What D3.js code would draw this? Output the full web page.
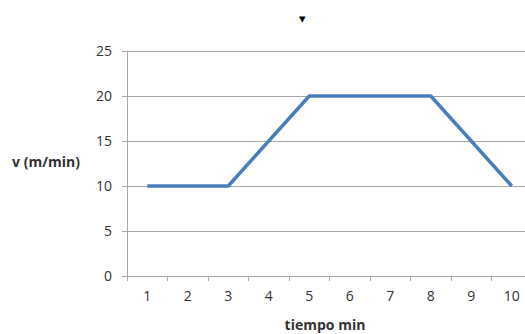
<!DOCTYPE html>
<html><head><meta charset="utf-8">
<script src="https://cdn.jsdelivr.net/npm/d3@7"></script>
<style>
body{margin:0;background:#fff;}
text{font-family:"Open Sans","Noto Sans",sans-serif;}
</style></head>
<body><svg id="c" width="525" height="334"></svg>
<script>
const categories = ["1","2","3","4","5","6","7","8","9","10"];
const velocity = [10,10,10,15,20,20,20,20,15,10];
const yTicks = [0,5,10,15,20,25];
const chartTitle = "▾";
const xTitle = "tiempo min";
const yTitle = "v (m/min)";

const svg = d3.select("#c");
const x = d3.scaleBand().domain(categories).range([127, 532]);
const y = d3.scaleLinear().domain([0,25]).range([276, 51]);

// gridlines
svg.append("g").selectAll("line").data(yTicks.filter(d=>d>0)).join("line")
  .attr("x1",127).attr("x2",525).attr("y1",d=>y(d)).attr("y2",d=>y(d))
  .attr("stroke","#a6a6a6").attr("stroke-width",1).attr("shape-rendering","crispEdges");

// y axis
const ya = svg.append("g").attr("transform","translate(127,0)")
  .call(d3.axisLeft(y).tickValues(yTicks).tickSize(5).tickPadding(10));
ya.select(".domain").attr("stroke","#a6a6a6").attr("shape-rendering","crispEdges");
ya.selectAll(".tick line").attr("stroke","#a6a6a6").attr("shape-rendering","crispEdges");
ya.selectAll(".tick text").attr("font-size",14).attr("fill","#333")
  .attr("font-family","'Open Sans','Noto Sans',sans-serif");

// x axis
const xa = svg.append("g").attr("transform","translate(0,276)")
  .call(d3.axisBottom(x).tickSize(0).tickPadding(15));
xa.select(".domain").remove();
xa.selectAll(".tick text").attr("font-size",14).attr("fill","#333")
  .attr("font-family","'Open Sans','Noto Sans',sans-serif");
// boundary ticks
svg.append("line").attr("x1",127).attr("x2",525).attr("y1",276).attr("y2",276)
  .attr("stroke","#a6a6a6").attr("shape-rendering","crispEdges");
svg.append("g").selectAll("line").data(categories).join("line")
  .attr("x1",d=>x(d)).attr("x2",d=>x(d)).attr("y1",276).attr("y2",281)
  .attr("stroke","#a6a6a6").attr("shape-rendering","crispEdges");

// line
const line = d3.line().x((d,i)=>x(categories[i])+x.bandwidth()/2).y(d=>y(d));
svg.append("path").datum(velocity).attr("d",line).attr("fill","none")
  .attr("stroke","#4a7ebb").attr("stroke-width",3.5).attr("stroke-linejoin","round");

// titles
svg.append("text").attr("x",302).attr("y",23).attr("text-anchor","middle")
  .attr("font-size",13).attr("fill","#000").text(chartTitle);
svg.append("text").attr("x",325).attr("y",330).attr("text-anchor","middle")
  .attr("font-size",14).attr("font-weight","bold").attr("fill","#333").text(xTitle);
svg.append("text").attr("x",46).attr("y",167).attr("text-anchor","middle")
  .attr("font-size",14).attr("font-weight","bold").attr("fill","#333").text(yTitle);
</script></body></html>
